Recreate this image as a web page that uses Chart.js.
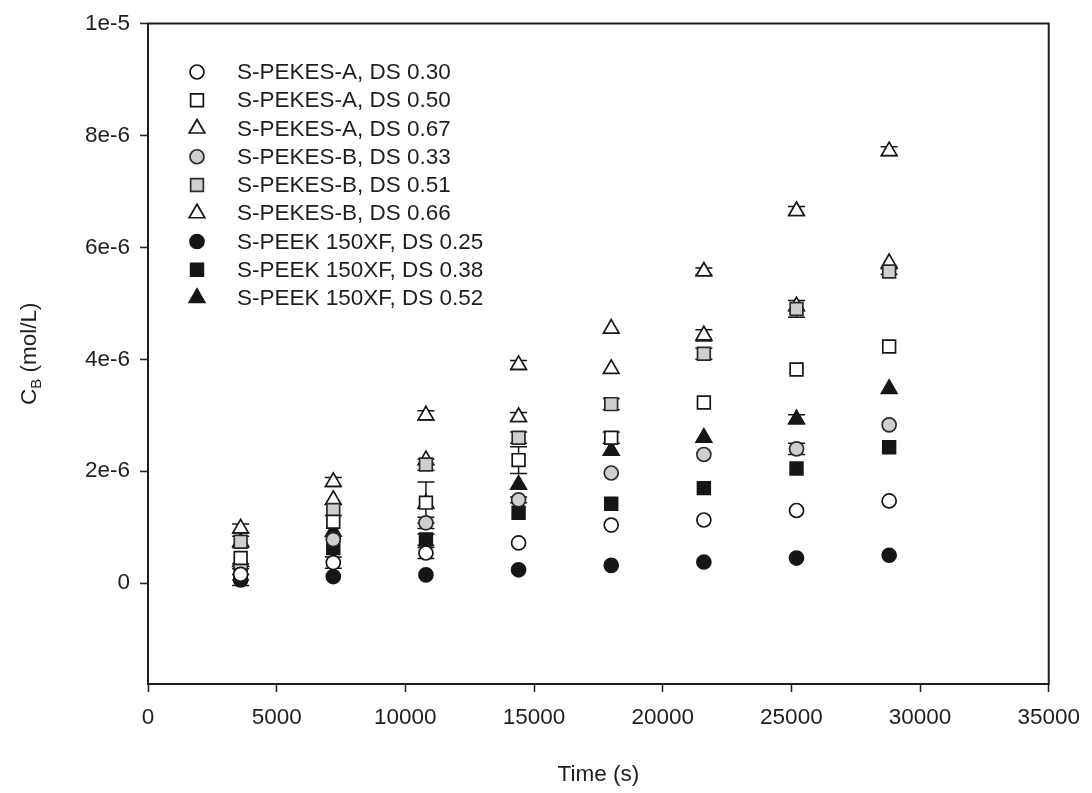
<!DOCTYPE html>
<html>
<head>
<meta charset="utf-8">
<title>Boron concentration vs time</title>
<script src="https://cdn.jsdelivr.net/npm/chart.js@4.4.1/dist/chart.umd.min.js"></script>
<style>
  html, body { margin: 0; padding: 0; background: #fff; }
  #wrap { width: 1092px; height: 793px; position: relative; }
</style>
</head>
<body>
<div id="wrap"><canvas id="chart" width="1092" height="793"></canvas></div>
<script>
"use strict";

/* ---- Data: C_B in units of 1e-6 mol/L ---- */
const times = [3600, 7200, 10800, 14400, 18000, 21600, 25200, 28800];

const seriesLabels = [
  "S-PEKES-A, DS 0.30",
  "S-PEKES-A, DS 0.50",
  "S-PEKES-A, DS 0.67",
  "S-PEKES-B, DS 0.33",
  "S-PEKES-B, DS 0.51",
  "S-PEKES-B, DS 0.66",
  "S-PEEK 150XF, DS 0.25",
  "S-PEEK 150XF, DS 0.38",
  "S-PEEK 150XF, DS 0.52",
];

const pekesA30 = [0.16, 0.37, 0.54, 0.72, 1.04, 1.13, 1.30, 1.47];
const pekesA50 = [0.45, 1.10, 1.44, 2.20, 2.60, 3.23, 3.82, 4.23];
const pekesA67 = [0.98, 1.81, 3.00, 3.90, 4.55, 5.57, 6.65, 7.72];
const pekesB33 = [0.32, 0.78, 1.08, 1.49, 1.97, 2.30, 2.40, 2.83];
const pekesB51 = [0.74, 1.31, 2.12, 2.60, 3.20, 4.10, 4.90, 5.57];
const pekesB66 = [0.74, 1.49, 2.20, 2.97, 3.83, 4.43, 4.95, 5.72];
const peek25   = [0.06, 0.12, 0.15, 0.24, 0.32, 0.38, 0.45, 0.50];
const peek38   = [0.25, 0.63, 0.78, 1.26, 1.42, 1.70, 2.05, 2.43];
const peek52   = [0.38, 0.92, 1.42, 1.76, 2.37, 2.60, 2.93, 3.47];

// standard deviations, same units
const errA30 = [0.10, 0.10, 0.10, 0, 0, 0, 0, 0];
const errA50 = [0, 0, 0.37, 0.24, 0.10, 0, 0, 0];
const errA67 = [0.08, 0.08, 0.08, 0.08, 0, 0.06, 0.08, 0.08];
const errB33 = [0, 0, 0.10, 0.05, 0, 0, 0.10, 0];
const errB51 = [0.10, 0.10, 0.10, 0.10, 0.10, 0.10, 0.15, 0.05];
const errB66 = [0, 0, 0, 0.08, 0, 0.10, 0, 0];
const err25  = [0.10, 0, 0, 0, 0, 0, 0, 0];
const err38  = [0.10, 0, 0.10, 0, 0, 0, 0, 0];
const err52  = [0, 0, 0, 0, 0, 0, 0.08, 0];

const xTickValues = [0, 5000, 10000, 15000, 20000, 25000, 30000, 35000];
const yTickValues = [0, 2e-6, 4e-6, 6e-6, 8e-6, 1e-5];
const yTickLabels = ["0", "2e-6", "4e-6", "6e-6", "8e-6", "1e-5"];

const xTitle = "Time (s)";
const yTitleMain = "C";
const yTitleSub = "B";
const yTitleRest = " (mol/L)";

/* ---- Marker styles ---- */
const INK = "#161616";
const OPEN = { bg: "#ffffff", border: INK };
const GREY = { bg: "#cfcfcf", border: "#2a2a2a" };
const FILL = { bg: INK, border: INK };

const seriesValues = [pekesA30, pekesA50, pekesA67, pekesB33, pekesB51, pekesB66, peek25, peek38, peek52];
const seriesErrors = [errA30, errA50, errA67, errB33, errB51, errB66, err25, err38, err52];
const seriesShapes = ["circle", "rect", "triangle", "circle", "rect", "triangle", "circle", "rect", "triangle"];
const seriesFills  = [OPEN, OPEN, OPEN, GREY, GREY, OPEN, FILL, FILL, FILL];

const radiusFor = shape => (shape === "circle" ? 7 : 9);
const FONT = '"Liberation Sans", Arial, sans-serif';

const datasets = seriesLabels.map((label, k) => ({
  label,
  data: times.map((t, i) => ({ x: t, y: seriesValues[k][i] * 1e-6 })),
  errors: seriesErrors[k].map(e => e * 1e-6),
  pointStyle: seriesShapes[k],
  pointRadius: radiusFor(seriesShapes[k]),
  pointBackgroundColor: seriesFills[k].bg,
  pointBorderColor: seriesFills[k].border,
  pointBorderWidth: 1.7,
  showLine: false,
}));

/* ---- Shape drawing shared with the legend ---- */
function drawMarker(ctx, shape, x, y, r) {
  ctx.beginPath();
  if (shape === "circle") {
    ctx.arc(x, y, r, 0, Math.PI * 2);
  } else if (shape === "rect") {
    const s = Math.SQRT1_2 * r;
    ctx.rect(x - s, y - s, 2 * s, 2 * s);
  } else {
    const w = r * Math.sin(Math.PI / 3);
    ctx.moveTo(x, y - r);
    ctx.lineTo(x + w, y + r / 2);
    ctx.lineTo(x - w, y + r / 2);
    ctx.closePath();
  }
  ctx.fill();
  ctx.stroke();
}

/* ---- Plugins ---- */
const errorBarPlugin = {
  id: "errorBars",
  beforeDatasetsDraw(chart) {
    const { ctx, scales: { x, y } } = chart;
    ctx.save();
    ctx.strokeStyle = INK;
    ctx.lineWidth = 1.5;
    chart.data.datasets.forEach(ds => {
      ds.errors.forEach((e, i) => {
        if (!e) return;
        const p = ds.data[i];
        const px = x.getPixelForValue(p.x);
        const top = y.getPixelForValue(p.y + e);
        const bot = y.getPixelForValue(p.y - e);
        ctx.beginPath();
        ctx.moveTo(px, top); ctx.lineTo(px, bot);
        ctx.moveTo(px - 8.5, top); ctx.lineTo(px + 8.5, top);
        ctx.moveTo(px - 8.5, bot); ctx.lineTo(px + 8.5, bot);
        ctx.stroke();
      });
    });
    ctx.restore();
  },
};

const framePlugin = {
  id: "frame",
  afterDatasetsDraw(chart) {
    const { ctx, chartArea: a } = chart;
    ctx.save();
    ctx.strokeStyle = "#1e1e1e";
    ctx.lineWidth = 2;
    ctx.strokeRect(a.left, a.top, a.right - a.left, a.bottom - a.top);
    ctx.restore();
  },
};

const legendPlugin = {
  id: "innerLegend",
  afterDraw(chart) {
    const { ctx } = chart;
    ctx.save();
    ctx.font = `22.5px ${FONT}`;
    ctx.textBaseline = "middle";
    ctx.lineWidth = 1.7;
    seriesLabels.forEach((label, k) => {
      const y = 72 + k * 28.25;
      ctx.fillStyle = seriesFills[k].bg;
      ctx.strokeStyle = seriesFills[k].border;
      drawMarker(ctx, seriesShapes[k], 197, y, radiusFor(seriesShapes[k]));
      ctx.fillStyle = "#1e1e1e";
      ctx.fillText(label, 237, y + 1);
    });
    ctx.restore();
  },
};

const axisTitlePlugin = {
  id: "axisTitles",
  afterDraw(chart) {
    const { ctx, chartArea: a } = chart;
    ctx.save();
    ctx.fillStyle = "#1e1e1e";
    ctx.textBaseline = "middle";

    // x title
    ctx.font = `22.5px ${FONT}`;
    ctx.textAlign = "center";
    ctx.fillText(xTitle, (a.left + a.right) / 2, 775);

    // y title with subscript, rotated
    ctx.textAlign = "left";
    const big = `22.5px ${FONT}`, small = `15px ${FONT}`;
    ctx.font = big;
    const wMain = ctx.measureText(yTitleMain).width;
    const wRest = ctx.measureText(yTitleRest).width;
    ctx.font = small;
    const wSub = ctx.measureText(yTitleSub).width;
    const total = wMain + wSub + wRest;
    ctx.translate(30, (a.top + a.bottom) / 2);
    ctx.rotate(-Math.PI / 2);
    let cx = -total / 2;
    ctx.font = big;
    ctx.fillText(yTitleMain, cx, 0);
    cx += wMain;
    ctx.font = small;
    ctx.fillText(yTitleSub, cx, 7);
    cx += wSub;
    ctx.font = big;
    ctx.fillText(yTitleRest, cx, 0);
    ctx.restore();
  },
};

/* ---- Chart ---- */
new Chart(document.getElementById("chart"), {
  type: "scatter",
  data: { datasets },
  options: {
    responsive: false,
    animation: false,
    layout: { padding: { top: 23, right: 36, left: 0, bottom: 0 } },
    plugins: { legend: { display: false }, tooltip: { enabled: false } },
    scales: {
      x: {
        type: "linear",
        min: 0,
        max: 35000,
        afterFit: s => { s.height = 109; },
        afterBuildTicks: s => { s.ticks = xTickValues.map(v => ({ value: v })); },
        ticks: {
          autoSkip: false,
          maxRotation: 0,
          padding: 12,
          color: "#1e1e1e",
          font: { family: FONT, size: 22.5 },
          callback: v => String(v),
        },
        grid: { drawOnChartArea: false, drawTicks: true, tickLength: 8, tickColor: "#1e1e1e", tickWidth: 1.5 },
        border: { display: false },
      },
      y: {
        type: "linear",
        min: -1.8e-6,
        max: 1e-5,
        afterFit: s => { s.width = 148; },
        afterBuildTicks: s => { s.ticks = yTickValues.map(v => ({ value: v })); },
        ticks: {
          autoSkip: false,
          padding: 10,
          color: "#1e1e1e",
          font: { family: FONT, size: 22.5 },
          callback: (v, i) => yTickLabels[i],
        },
        grid: { drawOnChartArea: false, drawTicks: true, tickLength: 8, tickColor: "#1e1e1e", tickWidth: 1.5 },
        border: { display: false },
      },
    },
  },
  plugins: [errorBarPlugin, framePlugin, legendPlugin, axisTitlePlugin],
});
</script>
</body>
</html>
